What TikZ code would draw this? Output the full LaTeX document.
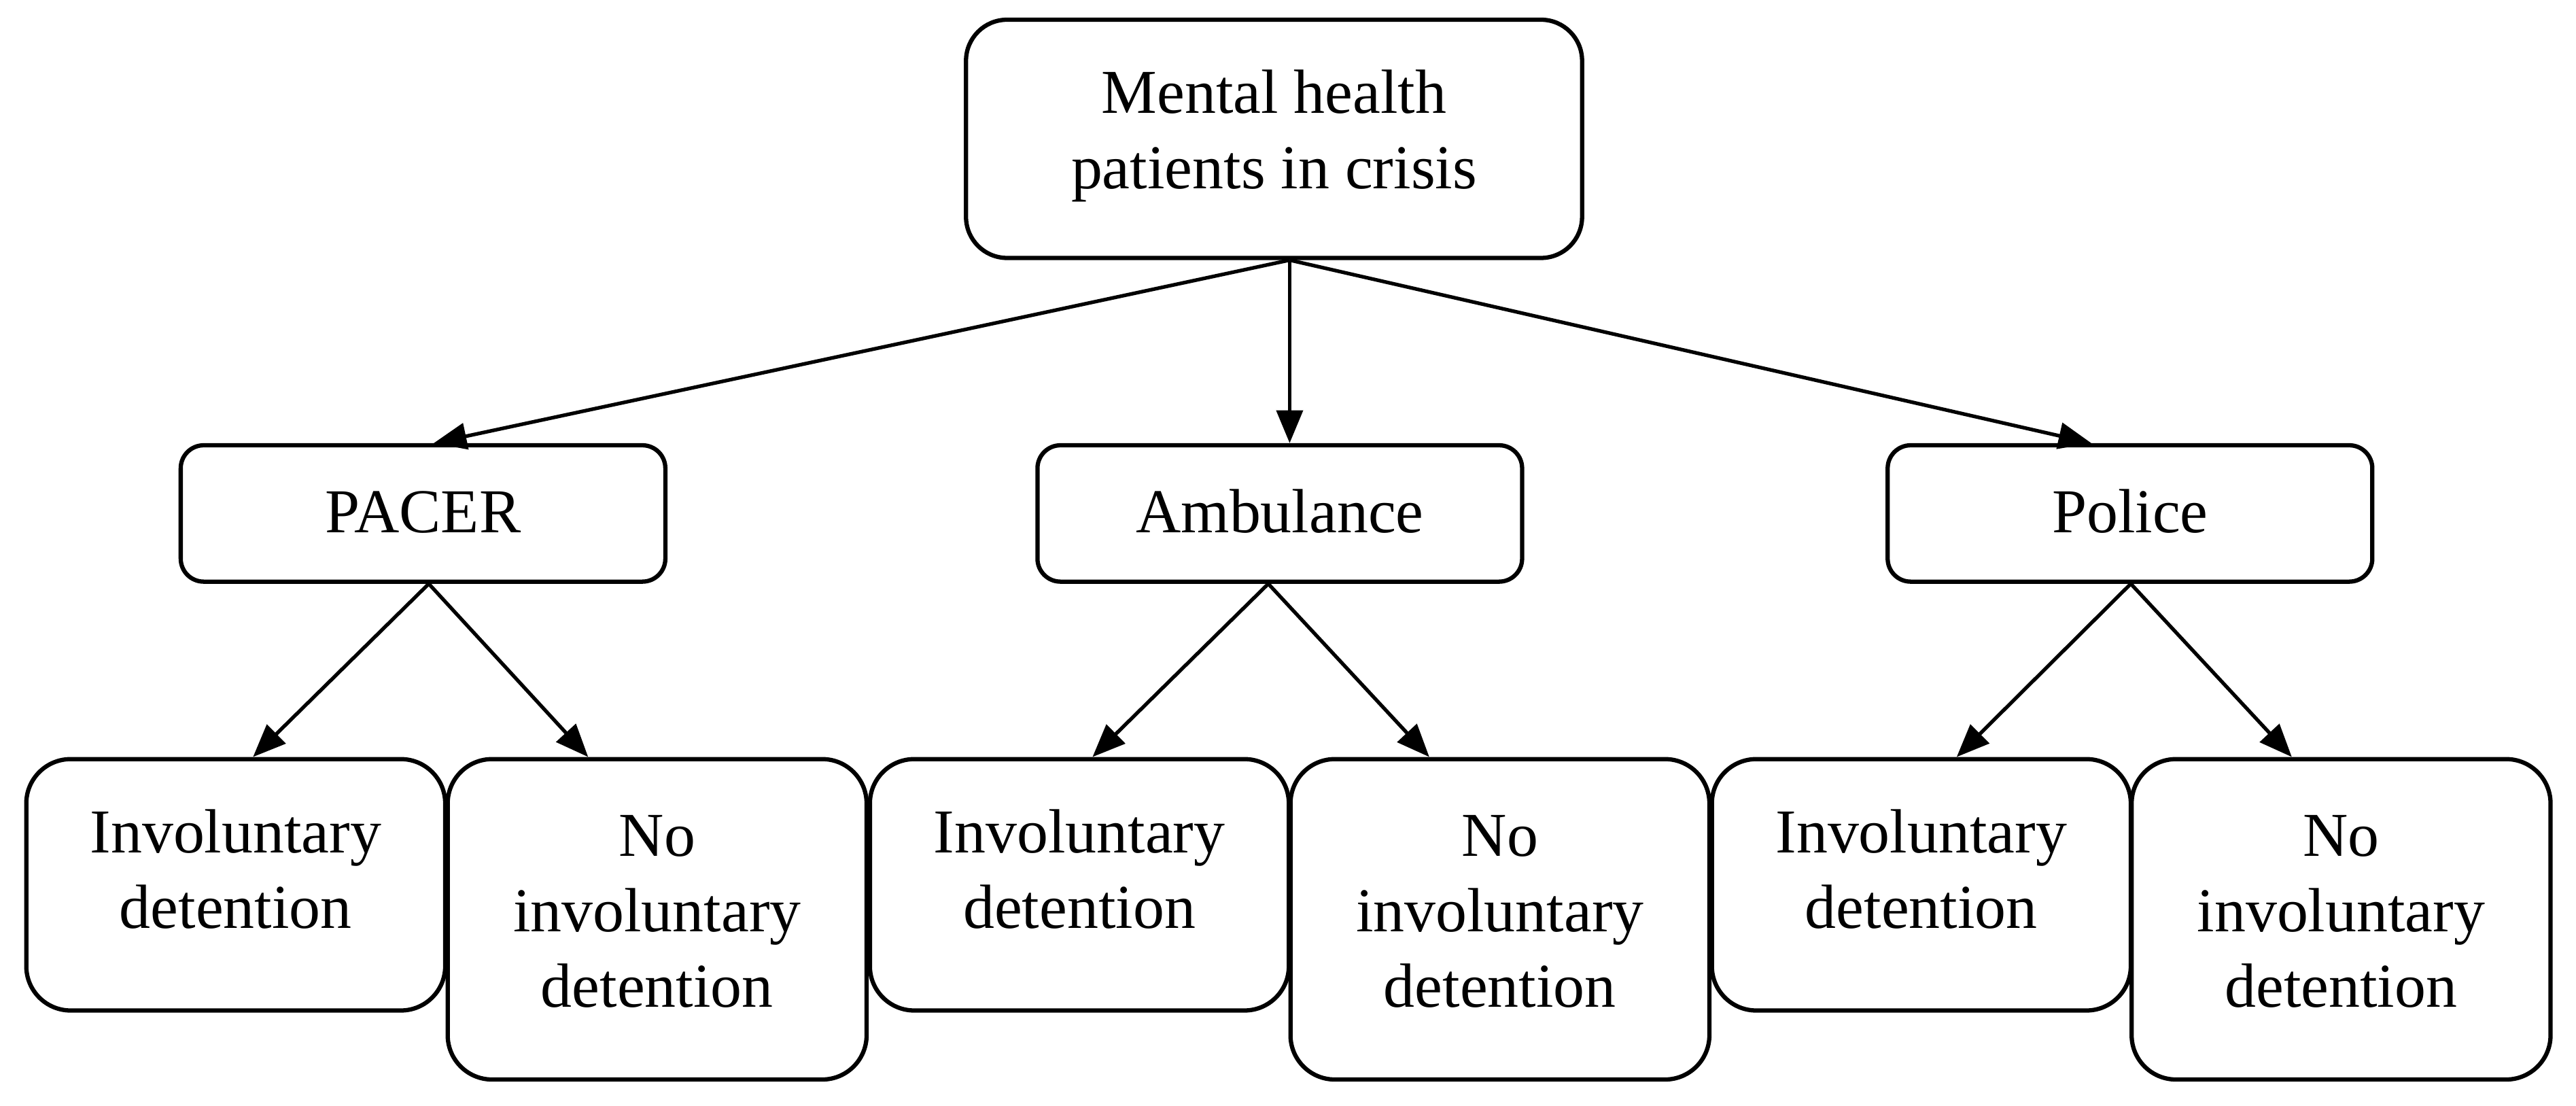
\documentclass[tikz,border=0pt]{standalone}
\usepackage{fontspec}
\setmainfont{Liberation Serif}
\usetikzlibrary{arrows.meta}
\newcommand\mlines[1]{\begin{tabular}[t]{@{}c@{}}#1\end{tabular}}
\tikzset{
  box/.style={draw, line width=1.3pt, inner sep=0pt, fill=white},
  topbox/.style={box, rounded corners=12.5pt, minimum width=187.5pt, minimum height=72.5pt},
  midbox/.style={box, rounded corners=7pt, minimum width=147.5pt, minimum height=41.5pt},
  invbox/.style={box, rounded corners=13.5pt, minimum width=127.5pt, minimum height=76.5pt},
  nobox/.style={box, rounded corners=13.5pt, minimum width=127.5pt, minimum height=97.5pt},
  txt/.style={anchor=base, inner sep=0pt, font=\fontsize{19}{23}\selectfont},
  arr/.style={line width=1.1pt, -{Triangle[length=10pt,width=8pt]}}
}
\begin{document}
\begin{tikzpicture}[x=0.5pt, y=-0.5pt]
\useasboundingbox[fill=white] (0,0) rectangle (1568,673);

% boxes
\node[topbox] (top) at (775.5,84.5) {};
\node[midbox] (pacer) at (257.5,312.5) {};
\node[midbox] (amb) at (779,312.5) {};
\node[midbox] (pol) at (1296.5,312.5) {};
\node[invbox] (inv1) at (143.5,538.5) {};
\node[nobox] (no1) at (400,559.5) {};
\node[invbox] (inv2) at (657,538.5) {};
\node[nobox] (no2) at (913,559.5) {};
\node[invbox] (inv3) at (1169.5,538.5) {};
\node[nobox] (no3) at (1425,559.5) {};

% texts
\node[txt] (toptxt) at (775.5,69) {\mlines{Mental health\\patients in crisis}};
\node[txt] (pacertxt) at (257.5,324) {PACER};
\node[txt] (ambtxt) at (779,324) {Ambulance};
\node[txt] (poltxt) at (1296.5,324) {Police};
\node[txt] (inv1txt) at (143.5,519) {\mlines{Involuntary\\detention}};
\node[txt] (no1txt) at (400,521) {\mlines{No\\involuntary\\detention}};
\node[txt] (inv2txt) at (657,519) {\mlines{Involuntary\\detention}};
\node[txt] (no2txt) at (913,521) {\mlines{No\\involuntary\\detention}};
\node[txt] (inv3txt) at (1169.5,519) {\mlines{Involuntary\\detention}};
\node[txt] (no3txt) at (1425,521) {\mlines{No\\involuntary\\detention}};

% connectors
\draw[arr] ([xshift=4.75pt]top.south) -- ([xshift=3.25pt]pacer.north);
\draw[arr] ([xshift=4.75pt]top.south) -- ([xshift=3pt]amb.north);
\draw[arr] ([xshift=4.75pt]top.south) -- ([xshift=-11.75pt]pol.north);

\draw[arr] ([xshift=1.75pt]pacer.south) -- ([xshift=5.25pt]inv1.north);
\draw[arr] ([xshift=1.75pt]pacer.south) -- ([xshift=-21pt]no1.north);
\draw[arr] ([xshift=-3.5pt]amb.south) -- ([xshift=4pt]inv2.north);
\draw[arr] ([xshift=-3.5pt]amb.south) -- ([xshift=-21.5pt]no2.north);
\draw[arr] ([xshift=0.25pt]pol.south) -- ([xshift=10.75pt]inv3.north);
\draw[arr] ([xshift=0.25pt]pol.south) -- ([xshift=-15pt]no3.north);
\end{tikzpicture}
\end{document}
